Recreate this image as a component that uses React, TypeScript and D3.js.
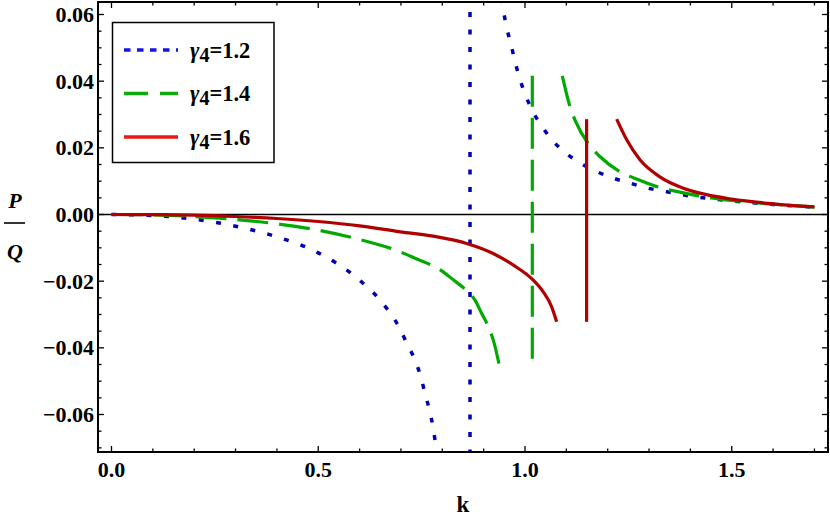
import React from "react";
import * as d3 from "d3";

// ---- data ----
const gammaLabels = ["1.2", "1.4", "1.6"];

const kBlueLeft = [0, 0.1, 0.2, 0.3, 0.4, 0.5, 0.6, 0.65, 0.698, 0.714, 0.734, 0.748, 0.758, 0.769, 0.778, 0.784, 0.788];
const vBlueLeft = [0, -0.0003, -0.0014, -0.0035, -0.0067, -0.0115, -0.0197, -0.0258, -0.0344, -0.0386, -0.0437, -0.0487, -0.0536, -0.0587, -0.0641, -0.0692, -0.073];
const kBlueRight = [0.943, 0.9475, 0.956, 0.968, 0.976, 0.988, 1.0, 1.02, 1.044, 1.068, 1.101, 1.137, 1.173, 1.2135, 1.254, 1.294, 1.343, 1.407, 1.5, 1.6, 1.7];
const vBlueRight = [0.065, 0.0614, 0.056, 0.05, 0.0458, 0.0405, 0.0362, 0.0307, 0.0259, 0.022, 0.0182, 0.0152, 0.0129, 0.0109, 0.0094, 0.008, 0.0068, 0.0054, 0.0041, 0.003, 0.0022];
const kBlueAsym = 0.867;
const vBlueAsym = [0.066, -0.073];

const kGreenLeft = [0, 0.1, 0.2, 0.3, 0.4, 0.5, 0.6, 0.698, 0.734, 0.7985, 0.8266, 0.855, 0.879, 0.8953, 0.91, 0.9233, 0.9395];
const vGreenLeft = [0, -0.0001, -0.0006, -0.0015, -0.0028, -0.0047, -0.0075, -0.0112, -0.0131, -0.0169, -0.0196, -0.0224, -0.0257, -0.0297, -0.0333, -0.0377, -0.0462];
const kGreenRight = [1.0902, 1.109, 1.121, 1.153, 1.181, 1.23, 1.278, 1.326, 1.383, 1.45, 1.5, 1.6, 1.7];
const vGreenRight = [0.0416, 0.0323, 0.0283, 0.0212, 0.0174, 0.0128, 0.0103, 0.0081, 0.0065, 0.005, 0.0042, 0.0031, 0.0022];
const kGreenAsym = 1.0177;
const vGreenAsym = [0.0416, -0.0462];

const kRedLeft = [0, 0.1, 0.2, 0.3, 0.4, 0.5, 0.6, 0.698, 0.778, 0.859, 0.923, 0.972, 1.02, 1.044, 1.0645, 1.0766];
const vRedLeft = [0, -0.00005, -0.0002, -0.0006, -0.0012, -0.0021, -0.0034, -0.0052, -0.0065, -0.0087, -0.0117, -0.0152, -0.0197, -0.0232, -0.0277, -0.0322];
const kRedRight = [1.2217, 1.246, 1.278, 1.326, 1.383, 1.423, 1.5, 1.6, 1.7];
const vRedRight = [0.0286, 0.0224, 0.0164, 0.0113, 0.0079, 0.0064, 0.0046, 0.0032, 0.0023];
const kRedAsym = 1.149;
const vRedAsym = [0.0286, -0.0322];

const xMajorTicks = [0, 0.5, 1.0, 1.5];
const xTickLabels = ["0.0", "0.5", "1.0", "1.5"];
const yMajorTicks = [-0.06, -0.04, -0.02, 0, 0.02, 0.04, 0.06];
const yTickLabels = ["\u22120.06", "\u22120.04", "\u22120.02", "0.00", "0.02", "0.04", "0.06"];

const zip = (ks: number[], vs: number[]) => ks.map((k, i) => [k, vs[i]] as [number, number]);

export default function App() {
  const W = 830, H = 522;
  const L = 98, R = 828, T = 2, B = 452;
  const x = d3.scaleLinear().domain([0, 1.5]).range([111.5, 731.75]);
  const y = d3.scaleLinear().domain([-0.06, 0.06]).range([414.5, 14.5]);
  const line = d3.line<[number, number]>().x(d => x(d[0])).y(d => y(d[1])).curve(d3.curveMonotoneX);

  const series = [
    { label: gammaLabels[0], color: "#0000b4", legendColor: "#1414e6", dash: "5,12.5", legendDash: "6.5,6.5", width: 3.5,
      branches: [zip(kBlueLeft, vBlueLeft), zip(kBlueRight, vBlueRight)], asymK: kBlueAsym, asymV: vBlueAsym },
    { label: gammaLabels[1], color: "#00aa00", legendColor: "#10a810", dash: "31,11", legendDash: "24,12", width: 3.2,
      branches: [zip(kGreenLeft, vGreenLeft), zip(kGreenRight, vGreenRight)], asymK: kGreenAsym, asymV: vGreenAsym },
    { label: gammaLabels[2], color: "#b00000", legendColor: "#e81818", dash: "none", legendDash: "none", width: 3.2,
      branches: [zip(kRedLeft, vRedLeft), zip(kRedRight, vRedRight)], asymK: kRedAsym, asymV: vRedAsym },
  ];

  const xMinor = d3.range(-0.0, 1.7001, 0.1).filter(v => !xMajorTicks.some(m => Math.abs(m - v) < 1e-6));
  const yMinor = d3.range(-0.07, 0.06501, 0.005).filter(v => !yMajorTicks.some(m => Math.abs(m - v) < 1e-6));
  const font = "'Liberation Serif', 'Times New Roman', serif";
  const majLen = 6, minLen = 3.5;

  return (
    <svg width={W} height={H} style={{ position: "absolute", left: 0, top: 0, background: "#fff" }} fontFamily={font}>
      <defs>
        <clipPath id="plotclip"><rect x={L} y={T} width={R - L} height={B - T} /></clipPath>
      </defs>
      {/* zero line */}
      <line x1={L} x2={R} y1={y(0)} y2={y(0)} stroke="#000" strokeWidth={1.6} />
      <g clipPath="url(#plotclip)">
        {series.map((s, i) => (
          <g key={i} fill="none" stroke={s.color} strokeWidth={s.width} strokeDasharray={s.dash}>
            {s.branches.map((b, j) => <path key={j} d={line(b) || ""} />)}
            <line x1={x(s.asymK)} x2={x(s.asymK)} y1={y(s.asymV[0])} y2={y(s.asymV[1])} />
          </g>
        ))}
      </g>
      {/* frame */}
      <rect x={L} y={T} width={R - L} height={B - T} fill="none" stroke="#000" strokeWidth={2} />
      {/* ticks */}
      <g stroke="#000" strokeWidth={1.3}>
        {xMajorTicks.map((t, i) => (
          <g key={"xm" + i}>
            <line x1={x(t)} x2={x(t)} y1={B} y2={B - majLen} />
            <line x1={x(t)} x2={x(t)} y1={T} y2={T + majLen} />
          </g>
        ))}
        {xMinor.map((t, i) => (
          <g key={"xn" + i}>
            <line x1={x(t)} x2={x(t)} y1={B} y2={B - minLen} />
            <line x1={x(t)} x2={x(t)} y1={T} y2={T + minLen} />
          </g>
        ))}
        {yMajorTicks.map((t, i) => (
          <g key={"ym" + i}>
            <line x1={L} x2={L + majLen} y1={y(t)} y2={y(t)} />
            <line x1={R} x2={R - majLen} y1={y(t)} y2={y(t)} />
          </g>
        ))}
        {yMinor.map((t, i) => (
          <g key={"yn" + i}>
            <line x1={L} x2={L + minLen} y1={y(t)} y2={y(t)} />
            <line x1={R} x2={R - minLen} y1={y(t)} y2={y(t)} />
          </g>
        ))}
      </g>
      {/* tick labels */}
      <g fontWeight="bold" fontSize={22} fill="#000">
        {xMajorTicks.map((t, i) => (
          <text key={"xl" + i} x={x(t)} y={477} textAnchor="middle">{xTickLabels[i]}</text>
        ))}
        {yMajorTicks.map((t, i) => (
          <text key={"yl" + i} x={94} y={y(t) + 7.5} textAnchor="end">{yTickLabels[i]}</text>
        ))}
      </g>
      {/* axis labels */}
      <text x={463} y={512} textAnchor="middle" fontWeight="bold" fontSize={23}>k</text>
      <g fontWeight="bold" fontStyle="italic" fontSize={22} textAnchor="middle">
        <text x={15} y={208}>P</text>
        <line x1={4} x2={25} y1={223} y2={223} stroke="#000" strokeWidth={1.6} />
        <text x={15} y={259}>Q</text>
      </g>
      {/* legend */}
      <rect x={112.5} y={22.5} width={161.5} height={140} fill="#fff" stroke="#000" strokeWidth={1.5} />
      {series.map((s, i) => {
        const ly = 50 + i * 43.5;
        return (
          <g key={"lg" + i}>
            <line x1={124} x2={178} y1={ly} y2={ly} stroke={s.legendColor} strokeWidth={3.3} strokeDasharray={s.legendDash} />
            <text x={190} y={ly + 7.5} fontSize={22.5} fontWeight="bold">
              <tspan fontStyle="italic">γ</tspan>
              <tspan fontSize={20} dy={4}>4</tspan>
              <tspan dy={-4}>=</tspan>
              <tspan>{s.label}</tspan>
            </text>
          </g>
        );
      })}
    </svg>
  );
}
